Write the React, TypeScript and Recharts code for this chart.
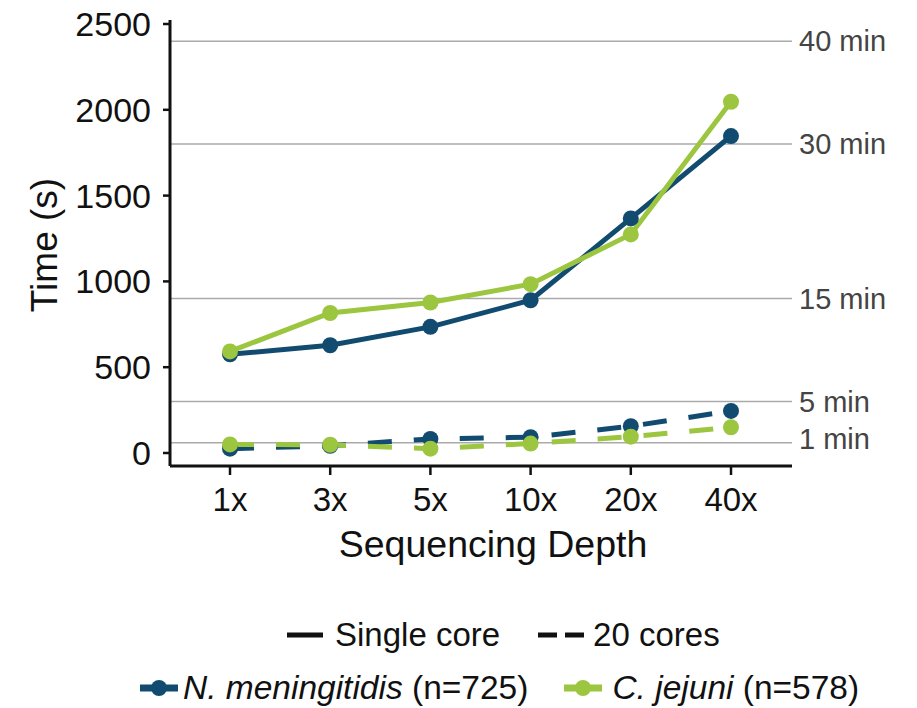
import React from 'react';
import { LineChart, Line, XAxis, YAxis, ReferenceLine } from 'recharts';

const categories = ['1x', '3x', '5x', '10x', '20x', '40x'];
const nmSingle = [575, 628, 735, 890, 1367, 1847];
const cjSingle = [592, 816, 877, 984, 1274, 2047];
const nmCores = [25, 42, 82, 92, 156, 245];
const cjCores = [50, 48, 25, 55, 95, 150];
const yTicks = [0, 500, 1000, 1500, 2000, 2500];
const refValues = [2400, 1800, 900, 300, 60];
const refLabels = ['40 min', '30 min', '15 min', '5 min', '1 min'];
const refLabelShift = [0, 0, 0, 0, -4];

const BLUE = '#124b70';
const GREEN = '#9cc63f';
const FONT = '"Liberation Sans", Arial, Helvetica, sans-serif';

const data = categories.map((c, i) => ({
  depth: c,
  nmSingle: nmSingle[i],
  cjSingle: cjSingle[i],
  nmCores: nmCores[i],
  cjCores: cjCores[i],
}));

const xTitle = (props: any) => {
  const vb = props.viewBox || {};
  return (
    <text x={vb.x + vb.width / 2 + 12} y={vb.y + 91} textAnchor="middle" fontSize={37.5} fill="#111" fontFamily={FONT}>
      Sequencing Depth
    </text>
  );
};

const yTitle = (props: any) => {
  const vb = props.viewBox || {};
  const x = vb.x + 57;
  const y = vb.y + vb.height / 2 + 2;
  return (
    <text x={x} y={y} transform={`rotate(-90, ${x}, ${y})`} textAnchor="middle" fontSize={37} fill="#111" fontFamily={FONT}>
      Time (s)
    </text>
  );
};

const refLabel = (text: string, shift: number) => (props: any) => {
  const vb = props.viewBox || {};
  return (
    <text x={vb.x + vb.width + 7} y={vb.y + shift} dominantBaseline="central" fontSize={29} fill="#444" fontFamily={FONT}>
      {text}
    </text>
  );
};

const dotStyle = (color: string) => ({ r: 8, fill: color, stroke: 'none', strokeWidth: 0 });

export default function App() {
  return (
    <div style={{ position: 'absolute', left: 0, top: 0, width: 917, height: 708, background: '#fff', fontFamily: FONT }}>
      <LineChart width={917} height={708} data={data} margin={{ top: 20, right: 125, bottom: 142, left: 0 }}>
        <XAxis
          dataKey="depth"
          padding={{ left: 60, right: 61 }}
          height={100}
          tickSize={9}
          tickMargin={13}
          interval={0}
          tick={{ fontSize: 33, fill: '#111', fontFamily: FONT }}
          axisLine={{ stroke: '#111', strokeWidth: 3 }}
          tickLine={{ stroke: '#111', strokeWidth: 2.5 }}
          label={xTitle}
        />
        <YAxis
          type="number"
          domain={[0, 2500]}
          ticks={yTicks}
          interval={0}
          width={170}
          padding={{ top: 4, bottom: 13 }}
          tickSize={7}
          tickMargin={12}
          tick={{ fontSize: 34, fill: '#111', fontFamily: FONT }}
          axisLine={{ stroke: '#111', strokeWidth: 3 }}
          tickLine={{ stroke: '#111', strokeWidth: 2.5 }}
          label={yTitle}
        />
        {refValues.map((v, i) => (
          <ReferenceLine key={v} y={v} stroke="#aaaaaa" strokeWidth={1.5} label={refLabel(refLabels[i], refLabelShift[i])} />
        ))}
        <Line dataKey="nmCores" stroke={BLUE} strokeWidth={5} strokeDasharray="24 22" dot={dotStyle(BLUE)} activeDot={false} isAnimationActive={false} />
        <Line dataKey="cjCores" stroke={GREEN} strokeWidth={5} strokeDasharray="24 22" dot={dotStyle(GREEN)} activeDot={false} isAnimationActive={false} />
        <Line dataKey="nmSingle" stroke={BLUE} strokeWidth={5} dot={dotStyle(BLUE)} activeDot={false} isAnimationActive={false} />
        <Line dataKey="cjSingle" stroke={GREEN} strokeWidth={5} dot={dotStyle(GREEN)} activeDot={false} isAnimationActive={false} />
      </LineChart>

      <div style={{ position: 'absolute', left: 287, top: 614, height: 42, display: 'flex', alignItems: 'center', fontSize: 33, color: '#111', whiteSpace: 'nowrap' }}>
        <svg width={36} height={10} style={{ marginRight: 12 }}>
          <line x1={0} y1={5} x2={36} y2={5} stroke="#111" strokeWidth={5} />
        </svg>
        <span>Single core</span>
        <svg width={46} height={10} style={{ marginLeft: 38, marginRight: 9 }}>
          <line x1={0} y1={5} x2={19} y2={5} stroke="#111" strokeWidth={5} />
          <line x1={27} y1={5} x2={46} y2={5} stroke="#111" strokeWidth={5} />
        </svg>
        <span>20 cores</span>
      </div>

      <div style={{ position: 'absolute', left: 140, top: 667, height: 42, display: 'flex', alignItems: 'center', fontSize: 33.5, color: '#111', whiteSpace: 'nowrap' }}>
        <svg width={38} height={18} style={{ marginRight: 5 }}>
          <line x1={0} y1={9} x2={38} y2={9} stroke={BLUE} strokeWidth={7} />
          <circle cx={19} cy={9} r={8} fill={BLUE} />
        </svg>
        <span><i>N. meningitidis</i> (n=725)</span>
        <svg width={38} height={18} style={{ marginLeft: 36, marginRight: 10 }}>
          <line x1={0} y1={9} x2={38} y2={9} stroke={GREEN} strokeWidth={7} />
          <circle cx={19} cy={9} r={8} fill={GREEN} />
        </svg>
        <span><i>C. jejuni</i> (n=578)</span>
      </div>
    </div>
  );
}
